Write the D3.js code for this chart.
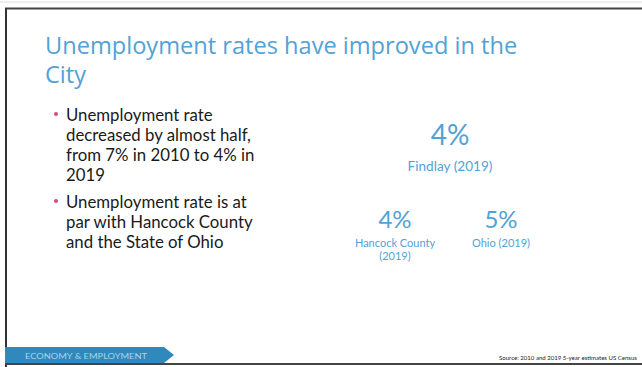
<!DOCTYPE html>
<html>
<head>
<meta charset="utf-8">
<script src="https://cdnjs.cloudflare.com/ajax/libs/d3/7.8.5/d3.min.js"></script>
<style>
  body { margin: 0; background: #fff; }
  svg { display: block; font-family: Lato, "Open Sans", sans-serif; }
</style>
</head>
<body>
<div id="chart"></div>
<script>
// slide content
var titleLines = ["Unemployment rates have improved in the", "City"];
var bullets = [
  ["Unemployment rate", "decreased by almost half,", "from 7% in 2010 to 4% in", "2019"],
  ["Unemployment rate is at", "par with Hancock County", "and the State of Ohio"]
];
var places = ["Findlay", "Hancock County", "Ohio"];
var placeLabels = [["Findlay (2019)"], ["Hancock County", "(2019)"], ["Ohio (2019)"]];
var rates = [4, 4, 5];
var sectionLabel = "ECONOMY & EMPLOYMENT";
var sourceNote = "Source: 2010 and 2019 5-year estimates US Census";

var W = 642, H = 367;
var blue = "#52a2d6";

var svg = d3.select("#chart").append("svg")
    .attr("width", W)
    .attr("height", H);

/* frame of the scanned slide */
svg.append("line").attr("x1", 0).attr("x2", W).attr("y1", 2).attr("y2", 2)
    .style("stroke", "#ddd").style("stroke-width", 1);
svg.append("line").attr("x1", 5).attr("x2", W).attr("y1", 8.5).attr("y2", 8.5)
    .style("stroke", "#444").style("stroke-width", 2);
svg.append("line").attr("x1", 6).attr("x2", 6).attr("y1", 8).attr("y2", H)
    .style("stroke", "#333").style("stroke-width", 2);
svg.append("line").attr("x1", 5).attr("x2", W).attr("y1", 364).attr("y2", 364)
    .style("stroke", "#444").style("stroke-width", 2);

/* title */
svg.append("text")
    .attr("x", 45)
    .attr("y", 54)
    .style("fill", blue)
    .style("font-family", "'Open Sans', sans-serif")
    .style("font-size", "23.6px")
    .selectAll("tspan")
    .data(titleLines)
    .enter().append("tspan")
    .attr("x", 45)
    .attr("dy", function(d, i) { return i ? 29 : 0; })
    .text(function(d) { return d; });

/* bullets */
var bulletTop = [121, 208];
var lineH = 20;
var bg = svg.selectAll("g.bullet")
    .data(bullets)
    .enter().append("g")
    .attr("class", "bullet");

bg.append("circle")
    .attr("cx", 56)
    .attr("cy", function(d, i) { return bulletTop[i] - 7; })
    .attr("r", 2)
    .style("fill", "#e0457b");

bg.append("text")
    .attr("y", function(d, i) { return bulletTop[i]; })
    .style("fill", "#1a1a1a")
    .style("font-size", "16.8px")
    .selectAll("tspan")
    .data(function(d) { return d; })
    .enter().append("tspan")
    .attr("x", 66)
    .attr("dy", function(d, i) { return i ? lineH : 0; })
    .text(function(d) { return d; });

/* big numbers */
var fmt = function(v) { return v + "%"; };
var xLow = d3.scalePoint().domain(places.slice(1)).range([395, 501]);
var pos = places.map(function(p, i) {
  return i === 0 ? { x: 450, y: 145, size: 28, lab: 13.6 }
                 : { x: xLow(p), y: 228, size: 24, lab: 11 };
});

var stat = svg.selectAll("g.stat")
    .data(places)
    .enter().append("g")
    .attr("class", "stat")
    .attr("transform", function(d, i) { return "translate(" + pos[i].x + "," + pos[i].y + ")"; });

stat.append("text")
    .attr("text-anchor", "middle")
    .style("fill", blue)
    .style("font-size", function(d, i) { return pos[i].size + "px"; })
    .text(function(d, i) { return fmt(rates[i]); });

stat.append("text")
    .attr("text-anchor", "middle")
    .attr("y", function(d, i) { return i === 0 ? 26 : 19; })
    .style("fill", blue)
    .style("font-size", function(d, i) { return pos[i].lab + "px"; })
    .selectAll("tspan")
    .data(function(d, i) { return placeLabels[i]; })
    .enter().append("tspan")
    .attr("x", 0)
    .attr("dy", function(d, i) { return i ? 13 : 0; })
    .text(function(d) { return d; });

/* section banner */
svg.append("path")
    .attr("d", "M5,347 L164,347 L174,355 L164,363 L5,363 Z")
    .style("fill", "#3089bd");
svg.append("text")
    .attr("x", 25)
    .attr("y", 358.5)
    .attr("textLength", 122)
    .attr("lengthAdjust", "spacingAndGlyphs")
    .style("fill", "#a9d3ea")
    .style("font-size", "8px")
    .text(sectionLabel);

/* source */
svg.append("text")
    .attr("x", 499)
    .attr("y", 359.5)
    .attr("textLength", 138)
    .attr("lengthAdjust", "spacingAndGlyphs")
    .style("fill", "#222")
    .style("font-size", "6px")
    .text(sourceNote);
</script>
</body>
</html>
